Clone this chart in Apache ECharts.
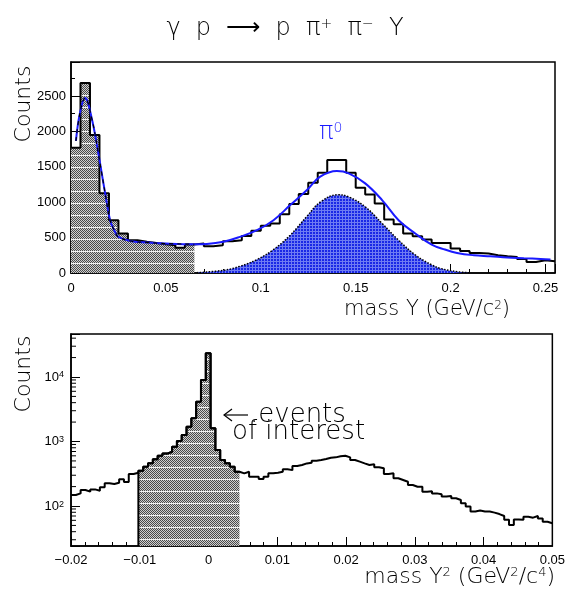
<!DOCTYPE html>
<html>
<head>
<meta charset="utf-8">
<script src="https://cdn.jsdelivr.net/npm/echarts@6/dist/echarts.min.js"></script>
<style>
html,body{margin:0;padding:0;background:#fff;}
#chart{width:568px;height:589px;}
</style>
</head>
<body>
<div id="chart"></div>
<script>
// ---------------- DATA ----------------
// Top histogram: mass Y, 51 bins of 0.005 GeV starting at 0
const topBinStart = 0;
const topBinWidth = 0.005;
const topCounts = [1770,2683,1950,1125,746,558,463,440,425,406,392,355,402,
  416,378,392,449,463,524,595,666,700,831,973,1115,1275,1416,
  1596,1596,1416,1204,1110,983,756,690,558,520,473,425,
  425,345,312,283,275,251,236,227,198,156,180,166];
// number of leading bins shaded grey (0 .. 0.065)
const topShadeBins = 13;

// fit curve (blue)
const fitX = [0.0026,0.0047,0.0074,0.0109,0.0144,0.0162,0.018,0.0206,0.0232,0.025,0.032,0.041,0.05,0.065,0.0716,0.0803,0.089,0.098,0.1067,0.1155,0.1243,0.1313,0.1401,0.1463,0.155,0.1639,0.1726,0.1814,0.19,0.197,0.2034,0.2122,0.221,0.2298,0.2386,0.2474,0.2526];
const fitY = [1865,2258,2470,2187,1691,1408,1125,746,581,510,449,430,416,406,410,440,510,605,746,959,1171,1360,1440,1408,1266,1030,746,558,402,331,283,251,236,218,208,198,190];
const lowCompPoints = 14; // black dashed component over the low-mass region

// pi0 gaussian component (blue filled)
const pi0X = [0.0663,0.0803,0.089,0.098,0.1067,0.1155,0.1243,0.1313,0.1405,0.1463,0.155,0.1639,0.1726,0.1814,0.19,0.1946,0.2034,0.21];
const pi0Y = [5,38,95,190,331,534,800,1000,1105,1075,935,700,463,255,115,65,18,4];

// Bottom histogram: mass Y^2, 100 bins of 0.0007 starting at -0.02
const botBinStart = -0.02;
const botBinWidth = 0.0007;
const botCounts = [148,157,177,167,181,173,195,225,219,230,259,236,313,328,
  353,406,459,530,603,650,
  695,831,1019,1262,1698,2291,4140,8980,23300,
  1600,738,517,459,406,340,321,
  340,285,285,262,
  285,321,329,340,371,360,417,432,458,469,
  505,517,536,561,568,589,602,568,517,487,
  458,432,445,398,384,313,321,269,253,238,
  212,199,199,167,170,157,152,140,143,132,
  124,110,98,82,85,82,82,79,75,70,
  61,51,62,61,68,66,70,64,57,54];
const botShadeFirst = 14, botShadeLast = 34; // "events of interest" bins

// axis settings
const topXMin = 0, topXMax = 0.255, topYMin = 0, topYMax = 2980;
const botXMin = -0.02, botXMax = 0.05, botYMin = 24, botYMax = 46400;
const logMinorTicks = [30,40,50,60,70,80,90,200,300,400,500,600,700,800,900,2000,3000,4000,5000,6000,7000,8000,9000,20000,30000,40000];

// ---------------- HELPERS ----------------
function histSteps(start, w, counts, from, to) {
  const pts = [];
  for (let i = from; i <= to; i++) pts.push([start + i * w, counts[i]]);
  pts.push([start + (to + 1) * w, counts[to]]);
  return pts;
}
function makePattern(kind) {
  const c = document.createElement('canvas');
  if (kind === 'grey') {
    c.width = 4; c.height = 12;
    const g = c.getContext('2d');
    for (let y = 0; y < 12; y++) for (let x = 0; x < 4; x++) {
      g.fillStyle = ((x + y) % 2 === 0) ? '#4a4a4a' : '#cfcfcf';
      if (y === 11) g.fillStyle = '#f2f2f2';
      g.fillRect(x, y, 1, 1);
    }
  } else {
    c.width = 3; c.height = 3;
    const g = c.getContext('2d');
    g.fillStyle = '#1a28e6'; g.fillRect(0, 0, 3, 3);
    g.fillStyle = '#6f7cf2'; g.fillRect(0, 0, 3, 1); g.fillRect(0, 0, 1, 3);
  }
  return { image: c, repeat: 'repeat' };
}
const greyPat = makePattern('grey');
const bluePat = makePattern('blue');

const FONT = 'DejaVu Sans';
const LFONT = 'Liberation Sans';

const topHist = histSteps(topBinStart, topBinWidth, topCounts, 0, topCounts.length - 1);
const topGrey = histSteps(topBinStart, topBinWidth, topCounts, 0, topShadeBins - 1);
const fitData = fitX.map((x, i) => [x, fitY[i]]);
const lowComp = fitData.slice(0, lowCompPoints);
const pi0Data = pi0X.map((x, i) => [x, pi0Y[i]]);
const botHist = histSteps(botBinStart, botBinWidth, botCounts, 0, botCounts.length - 1);
const botShade = [[botBinStart + botShadeFirst * botBinWidth, botYMin]].concat(
  histSteps(botBinStart, botBinWidth, botCounts, botShadeFirst, botShadeLast));

const fmtMinus = v => String(+v.toFixed(4)).replace('-', '\u2212');

const axisCommon = {
  axisLine: { onZero: false, lineStyle: { color: '#000', width: 1.5 } },
  axisTick: { inside: true, length: 9, lineStyle: { color: '#000', width: 1 } },
  minorTick: { show: true, length: 4, lineStyle: { color: '#000', width: 1 } },
  splitLine: { show: false },
  axisLabel: { color: '#000', fontFamily: LFONT, fontSize: 13 }
};

const chart = echarts.init(document.getElementById('chart'), null, { renderer: 'canvas' });
chart.setOption({
  animation: false,
  backgroundColor: '#fff',
  grid: [
    { left: 71, top: 62, width: 484, height: 211, show: true, borderColor: '#000', borderWidth: 1.5, containLabel: false },
    { left: 71, top: 334, width: 483, height: 212, show: true, borderColor: '#000', borderWidth: 1.5, containLabel: false }
  ],
  xAxis: [
    Object.assign({}, axisCommon, {
      type: 'value', gridIndex: 0, min: topXMin, max: topXMax, interval: 0.05,
      minorTick: Object.assign({}, axisCommon.minorTick, { splitNumber: 5 }),
      axisLabel: Object.assign({}, axisCommon.axisLabel, { margin: 9, showMaxLabel: false, formatter: v => fmtMinus(v) })
    }),
    Object.assign({}, axisCommon, {
      type: 'value', gridIndex: 1, min: botXMin, max: botXMax, interval: 0.01,
      minorTick: Object.assign({}, axisCommon.minorTick, { splitNumber: 5 }),
      axisLabel: Object.assign({}, axisCommon.axisLabel, { margin: 8, formatter: v => fmtMinus(v) })
    })
  ],
  yAxis: [
    Object.assign({}, axisCommon, {
      type: 'value', gridIndex: 0, min: topYMin, max: topYMax, interval: 500,
      minorTick: Object.assign({}, axisCommon.minorTick, { splitNumber: 2 }),
      axisLabel: Object.assign({}, axisCommon.axisLabel, { margin: 5, showMaxLabel: false, formatter: v => String(v) })
    }),
    Object.assign({}, axisCommon, {
      type: 'log', logBase: 10, gridIndex: 1, min: botYMin, max: botYMax, splitNumber: 3,
      minorTick: { show: false },
      axisLabel: Object.assign({}, axisCommon.axisLabel, {
        margin: 7,
        formatter: v => {
          const l = Math.log10(v);
          if (Math.abs(l - Math.round(l)) < 1e-6) return '10{sup|' + Math.round(l) + '}';
          return '';
        },
        rich: { sup: { fontSize: 9, verticalAlign: 'top', fontFamily: LFONT, color: '#000' } }
      })
    })
  ],
  series: [
    { type: 'line', xAxisIndex: 0, yAxisIndex: 0, step: 'end', data: topGrey, symbol: 'none',
      lineStyle: { width: 0, opacity: 0 }, areaStyle: { color: greyPat, opacity: 1 }, z: 1 },
    { type: 'line', xAxisIndex: 0, yAxisIndex: 0, data: pi0Data, symbol: 'none', smooth: 0.4,
      lineStyle: { color: '#000', width: 1.5, type: 'dotted' }, areaStyle: { color: bluePat, opacity: 1 }, z: 2 },
    { type: 'line', xAxisIndex: 0, yAxisIndex: 0, step: 'end', data: topHist, symbol: 'none',
      lineStyle: { color: '#000', width: 2 }, z: 3 },
    { type: 'line', xAxisIndex: 0, yAxisIndex: 0, data: fitData, symbol: 'none', smooth: 0.4,
      lineStyle: { color: '#1a1aff', width: 2 }, z: 4 },
    { type: 'line', xAxisIndex: 0, yAxisIndex: 0, data: lowComp, symbol: 'none', smooth: 0.4,
      lineStyle: { color: '#000', width: 1.2, type: [4, 4] }, z: 5 },
    { type: 'line', xAxisIndex: 1, yAxisIndex: 1, step: 'end', data: botShade, symbol: 'none',
      lineStyle: { color: '#000', width: 2 }, areaStyle: { color: greyPat, opacity: 1, origin: 'start' }, z: 1 },
    { type: 'line', xAxisIndex: 1, yAxisIndex: 1, step: 'end', data: botHist, symbol: 'none',
      lineStyle: { color: '#000', width: 2 }, z: 3 },
    { type: 'custom', xAxisIndex: 1, yAxisIndex: 1, silent: true, z: 6,
      data: logMinorTicks.map(v => [botXMin, v]),
      renderItem: (params, api) => {
        const p = api.coord([api.value(0), api.value(1)]);
        return { type: 'line', shape: { x1: p[0], y1: p[1], x2: p[0] + 5, y2: p[1] }, style: { stroke: '#000', lineWidth: 1 } };
      } }
  ],
  graphic: [
    { type: 'text', x: 285, y: 29, style: { text: 'γ  p  ⟶  p  π{sup|+}  π{sup|−}  Y', fill: '#000',
      font: '200 24px "' + FONT + '"', align: 'center', verticalAlign: 'middle',
      rich: { sup: { fontSize: 14, verticalAlign: 'top', fontFamily: FONT, fontWeight: 200 } } } },
    { type: 'text', x: 24, y: 104, rotation: Math.PI / 2, style: { text: 'Counts', fill: '#000',
      font: '200 22px "' + FONT + '"', align: 'center', verticalAlign: 'middle' } },
    { type: 'text', x: 24, y: 374, rotation: Math.PI / 2, style: { text: 'Counts', fill: '#000',
      font: '200 22px "' + FONT + '"', align: 'center', verticalAlign: 'middle' } },
    { type: 'text', x: 510, y: 310, style: { text: 'mass Y (GeV/c{sup|2})', fill: '#000',
      font: '200 21px "' + FONT + '"', align: 'right', verticalAlign: 'middle',
      rich: { sup: { fontSize: 12, verticalAlign: 'top', fontFamily: FONT, fontWeight: 200 } } } },
    { type: 'text', x: 555, y: 577, style: { text: 'mass Y{sup|2} (GeV{sup|2}/c{sup|4})', fill: '#000',
      font: '200 22px "' + FONT + '"', align: 'right', verticalAlign: 'middle',
      rich: { sup: { fontSize: 13, verticalAlign: 'top', fontFamily: FONT, fontWeight: 200 } } } },
    { type: 'text', x: 319, y: 133, style: { text: 'π{sup|0}', fill: '#1a1aff',
      font: '200 24px "' + FONT + '"', align: 'left', verticalAlign: 'middle',
      rich: { sup: { fontSize: 14, verticalAlign: 'top', fontFamily: FONT, fontWeight: 200, fill: '#1a1aff' } } } },
    { type: 'polyline', shape: { points: [[248, 415], [224, 415]] }, style: { stroke: '#000', lineWidth: 1.2, fill: null } },
    { type: 'polyline', shape: { points: [[232, 409], [224, 415], [232, 421]] }, style: { stroke: '#000', lineWidth: 1.2, fill: null } },
    { type: 'text', x: 250, y: 415, style: { text: '.events', fill: '#000',
      font: '200 26px "' + FONT + '"', align: 'left', verticalAlign: 'middle' } },
    { type: 'text', x: 232, y: 432, style: { text: 'of interest', fill: '#000',
      font: '200 26px "' + FONT + '"', align: 'left', verticalAlign: 'middle' } }
  ]
});
</script>
</body>
</html>
